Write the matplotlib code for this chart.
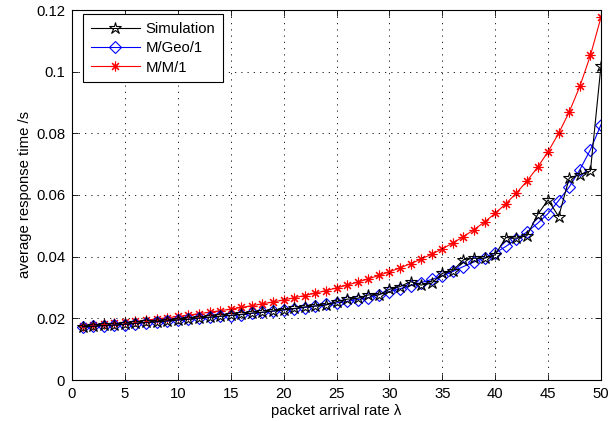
import matplotlib
matplotlib.use("Agg")
import matplotlib.pyplot as plt

plt.rcParams['font.family'] = ['Liberation Sans', 'DejaVu Sans']

# packet arrival rate
lam = list(range(1, 51))

# measured (simulated) average response time
sim = [0.0173, 0.0174, 0.0177, 0.0178, 0.0181, 0.0184, 0.0187, 0.0189, 0.0192, 0.0195,
       0.0197, 0.0201, 0.0204, 0.0207, 0.0210, 0.0213, 0.0217, 0.0220, 0.0224, 0.0228,
       0.0232, 0.0237, 0.0240, 0.0243, 0.0254, 0.0262, 0.0265, 0.0276, 0.0276, 0.0294,
       0.0303, 0.0319, 0.0308, 0.0314, 0.0346, 0.0355, 0.0390, 0.0395, 0.0395, 0.0406,
       0.0462, 0.0460, 0.0468, 0.0536, 0.0584, 0.0530, 0.0655, 0.0666, 0.0678, 0.1020]

# M/Geo/1 model
mgeo = [0.0172, 0.0174, 0.0176, 0.0178, 0.0180, 0.0183, 0.0186, 0.0188, 0.0191, 0.0194,
        0.0197, 0.0200, 0.0203, 0.0206, 0.0209, 0.0212, 0.0216, 0.0219, 0.0223, 0.0227,
        0.0231, 0.0235, 0.0240, 0.0245, 0.0250, 0.0255, 0.0261, 0.0267, 0.0277, 0.0287,
        0.0296, 0.0306, 0.0316, 0.0326, 0.0338, 0.0352, 0.0368, 0.0383, 0.0396, 0.0412,
        0.0433, 0.0457, 0.0480, 0.0508, 0.0540, 0.0582, 0.0626, 0.0682, 0.0747, 0.0828]

# M/M/1 model
mm1 = [0.01739, 0.01770, 0.01802, 0.01835, 0.01869, 0.01905, 0.01942, 0.01980, 0.02020, 0.02062,
       0.02105, 0.02151, 0.02198, 0.02247, 0.02299, 0.02353, 0.02410, 0.02469, 0.02532, 0.02597,
       0.02667, 0.02740, 0.02817, 0.02899, 0.02985, 0.03077, 0.03175, 0.03279, 0.03390, 0.03509,
       0.03636, 0.03774, 0.03922, 0.04082, 0.04255, 0.04444, 0.04651, 0.04878, 0.05128, 0.05405,
       0.05714, 0.06061, 0.06452, 0.06897, 0.07407, 0.08000, 0.08696, 0.09524, 0.10526, 0.11765]

xticks = [0, 5, 10, 15, 20, 25, 30, 35, 40, 45, 50]
yticks = [0, 0.02, 0.04, 0.06, 0.08, 0.1, 0.12]
ytick_labels = ['0', '0.02', '0.04', '0.06', '0.08', '0.1', '0.12']

fs = 10.7
fig = plt.figure(figsize=(6.13, 4.21), dpi=100)
ax = fig.add_axes([72 / 613, 41 / 421, 529 / 613, 370 / 421])

ax.plot(lam, sim, color='black', lw=0.8, marker='*', ms=9, mfc='none', mec='black',
        mew=0.8, label='Simulation', zorder=3)
ax.plot(lam, mgeo, color='blue', lw=0.8, marker='D', ms=6.5, mfc='none', mec='blue',
        mew=0.8, label='M/Geo/1', zorder=2)
ax.plot(lam, mm1, color='red', lw=0.8, marker=(8, 2, 0), ms=7, mec='red',
        mew=0.8, label='M/M/1', zorder=1)

ax.set_xlim(0, 50)
ax.set_ylim(0, 0.12)
ax.set_xticks(xticks)
ax.set_yticks(yticks)
ax.set_yticklabels(ytick_labels)
ax.tick_params(direction='in', length=4, width=0.6, top=True, right=True,
               labelsize=fs, pad=5)
ax.grid(True, color='black', linestyle=(0, (1.5, 6)), lw=0.6)
for s in ax.spines.values():
    s.set_linewidth(0.8)

ax.set_xlabel('packet arrival rate λ', fontsize=fs, labelpad=2)
ax.set_ylabel('average response time /s', fontsize=fs, labelpad=3)

leg = ax.legend(loc='upper left', bbox_to_anchor=(0.021, 0.988), fontsize=fs,
                numpoints=1, handlelength=3.3, handletextpad=0.4, labelspacing=0.36,
                borderpad=0.5, borderaxespad=0, fancybox=False, framealpha=1,
                edgecolor='black')
leg.get_frame().set_linewidth(0.8)

fig.savefig('out.png', dpi=100)
